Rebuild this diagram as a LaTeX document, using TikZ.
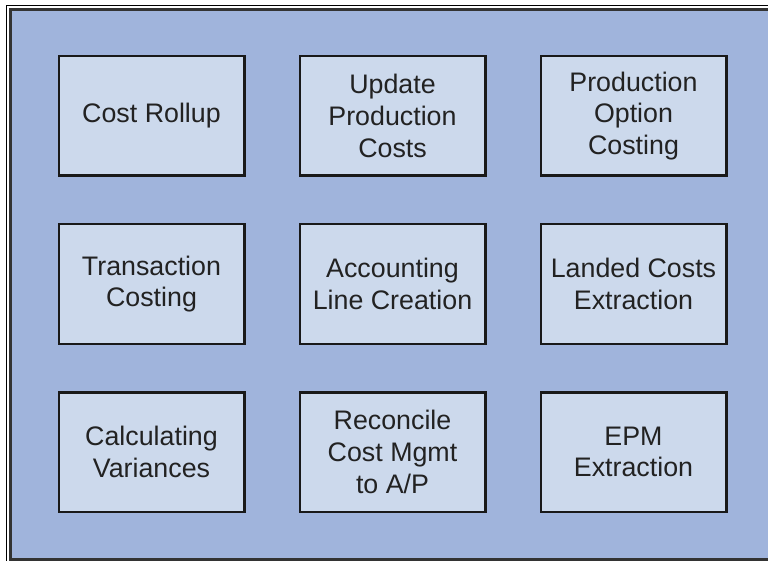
\documentclass[tikz,border=0pt]{standalone}
\usepackage{fontspec}
\setmainfont{Liberation Sans}
\usepackage{tikz}
\usetikzlibrary{positioning}
\definecolor{panelblue}{HTML}{A0B4DC}
\definecolor{boxblue}{HTML}{CCD9EC}
\definecolor{textgray}{HTML}{222222}
\begin{document}
\begin{tikzpicture}
		[
			x = 1pt, y = -1pt,
			task/.style = {rectangle, draw = black!90, line width = 2.5pt, fill = boxblue, minimum width = 185.5pt, minimum height = 119.5pt, inner sep = 0pt, outer sep = 0pt, align = center, text = textgray, font = \fontsize{26.8}{31.8}\selectfont},
			node distance = 48.5pt and 55.5pt,
		]
			%
			\useasboundingbox (0,0) rectangle (768,561);
			\clip (0,0) rectangle (768,561);
			\fill [white] (0,0) rectangle (768,561);
			\draw [black, line width = 1pt] (6.5,5.5) rectangle (800,600);
			\draw [fill = panelblue, draw = black!80, line width = 3pt] (10,9.5) rectangle (800,559);
			%
			\node (rollup) [task] at (151.5,116) {Cost Rollup};
			\node (update) [task, right = of rollup] {Update\\Production\\Costs};
			\node (option) [task, right = of update] {Production\\Option\\Costing};
			%
			\node (transaction) [task, below = of rollup] {Transaction\\Costing};
			\node (accounting) [task, below = of update] {Accounting\\Line Creation};
			\node (landed) [task, below = of option] {Landed Costs\\Extraction};
			%
			\node (variances) [task, below = of transaction] {Calculating\\Variances};
			\node (reconcile) [task, below = of accounting] {Reconcile\\Cost Mgmt\\to A/P};
			\node (epm) [task, below = of landed] {EPM\\Extraction};
			%
		\end{tikzpicture}
\end{document}
